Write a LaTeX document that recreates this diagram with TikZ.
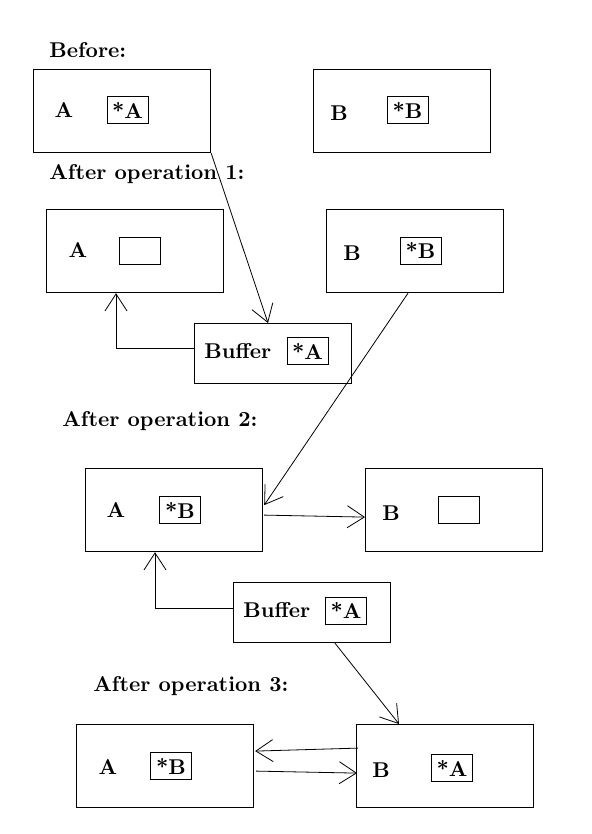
\documentclass[tikz,border=0pt]{standalone}
\usepackage{tikz}
\usetikzlibrary{positioning, calc, arrows.meta}

\tikzset{
  frame/.style={draw, line width=0.6pt, minimum width=88.5pt, minimum height=41.5pt, anchor=north west},
  bufbox/.style={draw, line width=0.6pt, minimum width=78.5pt, minimum height=30pt, anchor=north west},
  ptr/.style={draw, line width=0.5pt, minimum width=20.5pt, minimum height=13.5pt, inner sep=0pt},
  link/.style={line width=0.4pt, -{Straight Barb[length=8.5pt,width=11pt,line width=0.4pt]}}
}

\begin{document}
\begin{tikzpicture}[x=0.5pt, y=-0.5pt, font=\fontsize{10.7}{13}\selectfont\bfseries]
    \useasboundingbox (0,0) rectangle (592,834);

    % Before
    \node[anchor=west, inner sep=0pt] (before) at (49,50) {Before:};
    \node[frame] (a0) at (33,69) {};
    \node (a0name) at (64,110) {A};
    \node[ptr] (a0ptr) at (127.5,110.5) {*A};
    \node[frame] (b0) at (313,69) {};
    \node (b0name) at (339,113) {B};
    \node[ptr] (b0ptr) at (407.5,110.5) {*B};

    % After operation 1
    \node[anchor=west, inner sep=0pt] (op1) at (49,174) {After operation 1:};
    \node[frame] (a1) at (46,209) {};
    \node (a1name) at (78,250) {A};
    \node[ptr] (a1ptr) at (140,250.5) {};
    \node[frame] (b1) at (326,209) {};
    \node (b1name) at (352,253) {B};
    \node[ptr] (b1ptr) at (420.5,250.5) {*B};
    \node[bufbox] (buf1) at (194,323) {};
    \node[anchor=west, inner sep=0pt] (buf1name) at (204,351) {Buffer};
    \node[ptr] (buf1ptr) at (307.5,351) {*A};

    % After operation 2
    \node[anchor=west, inner sep=0pt] (op2) at (62,421) {After operation 2:};
    \node[frame] (a2) at (85,468) {};
    \node (a2name) at (116,510) {A};
    \node[ptr] (a2ptr) at (180,510) {*B};
    \node[frame] (b2) at (365,468) {};
    \node (b2name) at (391,513) {B};
    \node[ptr] (b2ptr) at (459,510) {};
    \node[bufbox] (buf2) at (233,582) {};
    \node[anchor=west, inner sep=0pt] (buf2name) at (243,610) {Buffer};
    \node[ptr] (buf2ptr) at (346,610.5) {*A};

    % After operation 3
    \node[anchor=west, inner sep=0pt] (op3) at (93,686) {After operation 3:};
    \node[frame] (a3) at (76,724) {};
    \node (a3name) at (108,767) {A};
    \node[ptr] (a3ptr) at (171,766) {*B};
    \node[frame] (b3) at (356,724) {};
    \node (b3name) at (381,770) {B};
    \node[ptr] (b3ptr) at (452,768) {*A};

    % moves
    \draw[link] (a0.south east) -- ($(buf1.north west)+(74,0)$);
    \draw[link] ($(buf1.west)+(0,-5)$) -| ($(a1.south west)+(70,0)$);
    \draw[link] ($(b1.south west)+(82,0)$) -- ($(a2.east)+(1,-5)$);
    \draw[link] ($(a2.east)+(1,5)$) -- ($(b2.west)+(0,7)$);
    \draw[link] ($(buf2.west)+(0,-4.5)$) -| ($(a2.south west)+(70,0)$);
    \draw[link] ($(buf2.south west)+(102,0)$) -- ($(b3.north west)+(43,0)$);
    \draw[link] ($(b3.west)+(2,-18)$) -- ($(a3.east)+(1,-15)$);
    \draw[link] ($(a3.east)+(2,5)$) -- ($(b3.west)+(1,7)$);

\end{tikzpicture}
\end{document}
